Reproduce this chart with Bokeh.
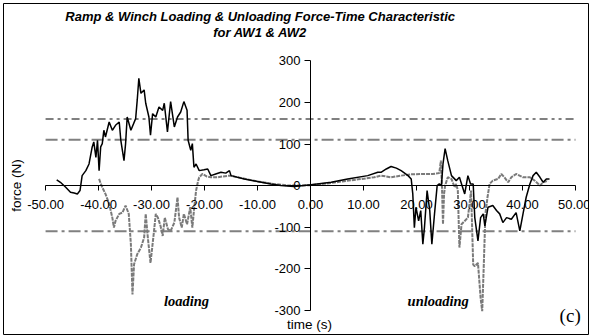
import math
from bokeh.plotting import figure
from bokeh.models import Range1d, LinearAxis, FixedTicker, PrintfTickFormatter, Label
from bokeh.embed import file_html
from bokeh.resources import INLINE

# ---- data ----
aw1_t = [-47.9, -47.2, -46.2, -45.3, -44.6, -44.0, -43.5, -43.1, -42.4, -41.8, -41.2, -40.9, -40.5,
         -40.2, -39.9, -39.6, -39.3, -39.0, -38.7, -38.0, -37.4, -36.8, -36.1, -35.8, -35.2, -34.9,
         -34.6, -33.9, -33.0, -32.7, -32.4, -32.0, -31.4, -31.1, -30.5, -30.2, -29.8, -29.2, -28.6,
         -27.9, -27.6, -27.0, -26.4, -25.7, -25.1, -24.5, -23.9, -23.3, -23.1, -22.6, -22.3, -22.0,
         -21.6, -21.0, -20.1, -19.4, -18.8, -17.9, -16.9, -16.0, -15.3, -15.0, -12.5, -10.0, -7.5,
         -5.6, -3.1, 0.1, 3.9, 7.0, 10.8, 12.7, 13.3, 14.3, 15.2, 16.2, 17.1, 18.4, 19.0, 19.3, 19.6,
         19.9, 20.4, 20.8, 21.2, 21.5, 22.0, 22.5, 22.9, 23.4, 23.9, 24.3, 24.7, 25.0, 25.4, 25.9,
         26.6, 27.5, 28.1, 28.8, 29.1, 29.7, 30.2, 30.7, 31.0, 31.6, 32.1, 32.6, 32.9, 33.5, 34.4,
         35.1, 35.7, 36.3, 37.0, 37.9, 38.8, 39.5, 40.1, 40.7, 41.4, 42.0, 42.6, 43.3, 43.9, 44.5,
         45.1]
aw1_f = [14, 8, -4, -16, -18, -20, -12, 24, 36, 52, 93, 105, 68,
         109, 36, 93, 101, 133, 117, 153, 133, 145, 153, 109, 60, 101,
         165, 133, 161, 206, 258, 222, 230, 198, 165, 121, 173, 165, 189,
         181, 198, 129, 202, 141, 165, 177, 202, 181, 109, 85, 101, 44,
         52, 36, 38, 40, 24, 28, 32, 30, 36, 24, 16, 10, 4,
         0, -2, 2, 8, 16, 24, 32, 32, 40, 46, 42, 36, 24, 16, -20, -101,
         -52, -85, -60, -141, -101, -12, -60, -141, -68, 0, 4, 0, 52, 89, 60,
         24, 12, 20, -8, -20, 24, 4, 4, -77, -133, -77, -68, -97, -52, -48,
         -60, -68, -89, -77, -81, -65, -109, -68, -28, 4, 24, 32, 20, 8, 16,
         16]

aw2_t = [-39.9, -39.6, -39.3, -38.7, -38.0, -37.4, -37.1, -36.8, -36.1, -35.5, -34.9, -34.3, -33.9,
         -33.6, -33.3, -32.7, -32.0, -31.4, -31.1, -30.7, -30.2, -29.6, -29.2, -28.8, -28.3, -27.9,
         -27.5, -26.9, -26.4, -25.7, -25.1, -24.8, -24.3, -23.9, -23.3, -22.7, -22.3, -22.0, -21.6,
         -21.2, -21.0, -20.4, -19.6, -18.8, -17.5, -16.5, -15.3, -13.0, -10.0, -7.0, -4.0, -2.0,
         0.0, 3.0, 6.0, 9.0, 12.0, 13.3, 15.2, 17.1, 19.0, 21.0, 23.0, 24.3, 24.6, 24.8, 25.0, 25.2,
         25.4, 25.9, 26.6, 27.2, 27.5, 27.8, 28.1, 28.5, 29.1, 29.7, 30.3, 30.7, 31.0, 31.6, 32.1,
         32.4, 32.7, 33.0, 33.4, 33.8, 34.4, 35.4, 36.0, 36.6, 37.3, 37.9, 38.8, 40.1, 41.4, 42.3,
         43.3, 43.9, 44.8]
aw2_f = [16, 5, -4, -20, -44, -77, -101, -85, -68, -65, -48, -68, -141,
         -262, -189, -165, -149, -125, -68, -125, -186, -117, -68, -77, -97, -121,
         -77, -105, -109, -89, -28, -77, -101, -68, -93, -52, -101, -60, -12,
         12, 20, 28, 22, 20, 20, 22, 24, 18, 10, 4, 0, 0,
         1, 5, 10, 15, 20, 24, 20, 24, 27, 28, 28, 30, 60, 0, -93, -20,
         0, 20, 16, -4, 4, -12, -149, -93, -85, -77, -12, -190, -194, -186, -270,
         -302, -190, -68, -28, 4, 12, 16, 28, 20, 8, 20, 28, 20, 20, 12,
         0, 8, 12]

x_ticks = [-50, -40, -30, -20, -10, 0, 10, 20, 30, 40, 50]
y_ticks = [-300, -200, -100, 0, 100, 200, 300]
limit_hi2 = 160
limit_hi1 = 110
limit_lo = -110

# ---- figure ----
p = figure(width=590, height=336,
           x_range=Range1d(-57.94, 52.46), y_range=Range1d(-358.06, 437.9),
           output_backend="svg", toolbar_location=None,
           x_axis_type=None, y_axis_type=None,
           min_border_left=3, min_border_right=2, min_border_top=3, min_border_bottom=2)
p.outline_line_color = "black"
p.outline_line_width = 1
p.background_fill_color = "white"
p.border_fill_color = "white"

FONT = "Liberation Sans"

xa = LinearAxis(ticker=FixedTicker(ticks=x_ticks), formatter=PrintfTickFormatter(format="%.2f"))
xa.fixed_location = 0
xa.bounds = (-50, 50)
xa.major_tick_out = 5
xa.major_tick_in = 0
xa.minor_tick_out = 0
xa.minor_tick_in = 0
xa.major_label_standoff = 9
xa.major_label_text_font = FONT
xa.major_label_text_font_size = "13px"
xa.major_label_text_color = "black"
xa.axis_line_color = "black"
p.add_layout(xa, "below")

ya = LinearAxis(ticker=FixedTicker(ticks=y_ticks), formatter=PrintfTickFormatter(format="%d"))
ya.fixed_location = 0
ya.bounds = (-300, 300)
ya.major_tick_out = 6
ya.major_tick_in = 0
ya.minor_tick_out = 0
ya.minor_tick_in = 0
ya.major_label_standoff = 4
ya.major_label_text_font = FONT
ya.major_label_text_font_size = "13px"
ya.major_label_text_color = "black"
ya.axis_line_color = "black"
p.add_layout(ya, "left")

# limit lines
p.line([x_ticks[0], x_ticks[-1]], [limit_hi2, limit_hi2], line_color="#808080", line_width=2,
       line_dash="8 4 3 4 3 4")
p.line([x_ticks[0], x_ticks[-1]], [limit_hi1, limit_hi1], line_color="#808080", line_width=2,
       line_dash="12 4 3 4")
p.line([x_ticks[0], x_ticks[-1]], [limit_lo, limit_lo], line_color="#808080", line_width=2,
       line_dash="12 4 3 4")

# series
p.line(aw2_t, aw2_f, line_color="#7a7a7a", line_width=2, line_dash="4 1")
p.line(aw1_t, aw1_f, line_color="black", line_width=1.5)

# texts
p.add_layout(Label(x=-9.5, y=406.5, text="Ramp & Winch Loading & Unloading Force-Time Characteristic",
                   text_align="center", text_baseline="middle", text_font=FONT,
                   text_font_style="bold italic", text_font_size="13px", text_color="black"))
p.add_layout(Label(x=-9.5, y=369, text="for AW1 & AW2",
                   text_align="center", text_baseline="middle", text_font=FONT,
                   text_font_style="bold italic", text_font_size="13px", text_color="black"))
p.add_layout(Label(x=-55.4, y=0, text="force (N)", angle=math.pi / 2,
                   text_align="center", text_baseline="middle", text_font=FONT,
                   text_font_size="13.5px", text_color="black"))
p.add_layout(Label(x=-0.2, y=-334, text="time (s)",
                   text_align="center", text_baseline="middle", text_font=FONT,
                   text_font_size="13.5px", text_color="black"))
p.add_layout(Label(x=-23.4, y=-278, text="loading",
                   text_align="center", text_baseline="middle", text_font="Liberation Serif",
                   text_font_style="bold italic", text_font_size="14.5px", text_color="black"))
p.add_layout(Label(x=24.1, y=-278, text="unloading",
                   text_align="center", text_baseline="middle", text_font="Liberation Serif",
                   text_font_style="bold italic", text_font_size="14.5px", text_color="black"))
p.add_layout(Label(x=49.0, y=-312, text="(c)",
                   text_align="center", text_baseline="middle", text_font="Liberation Serif",
                   text_font_size="19px", text_color="black"))

open("out.html", "w").write(file_html(p, INLINE))
